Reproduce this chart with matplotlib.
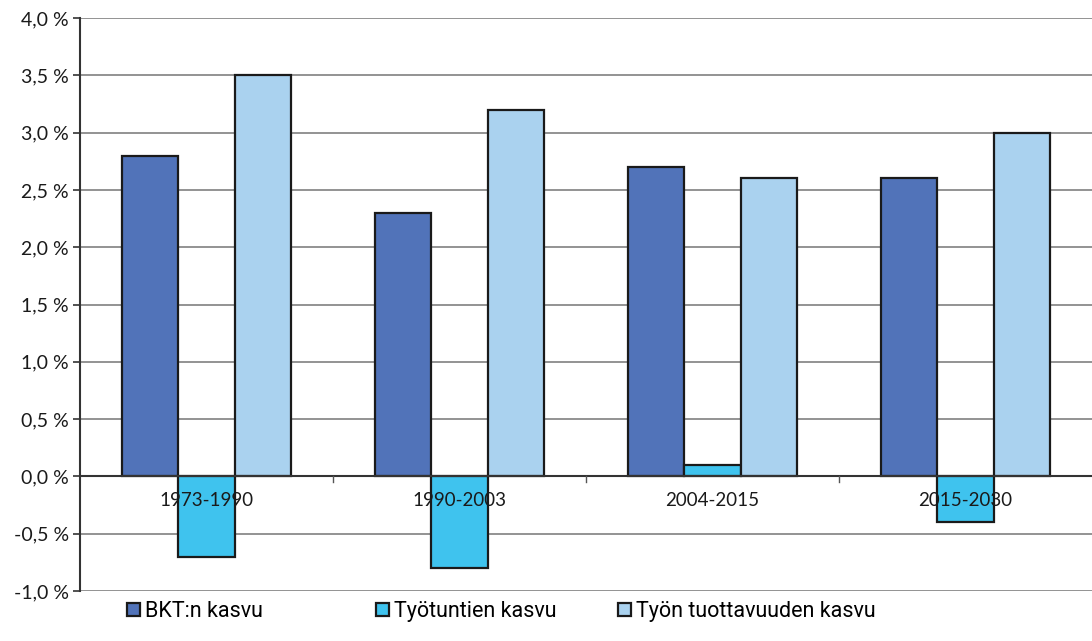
import numpy as np
import matplotlib.pyplot as plt
from matplotlib.ticker import FuncFormatter

# data
periods = ['1973-1990', '1990-2003', '2004-2015', '2015-2030']
bkt = [2.8, 2.3, 2.7, 2.6]
tyotunnit = [-0.7, -0.8, 0.1, -0.4]
tuottavuus = [3.5, 3.2, 2.6, 3.0]
series_names = ['BKT:n kasvu', 'Työtuntien kasvu', 'Työn tuottavuuden kasvu']
colors = ['#5173B9', '#3FC3EE', '#AAD2EF']

fig = plt.figure(figsize=(10.92, 6.41), dpi=100)
ax = fig.add_axes([80 / 1092, 1 - 591 / 641, 1 - 80 / 1092, (591 - 18) / 641])

x = np.arange(len(periods))
w = 0.223
for k, (vals, col, name) in enumerate(zip([bkt, tyotunnit, tuottavuus], colors, series_names)):
    ax.bar(x + (k - 1) * w, vals, width=w, color=col, edgecolor='#1a1a1a',
           linewidth=1.6, label=name, zorder=3)

ax.set_xlim(-0.5, len(periods) - 0.5)
ax.set_ylim(-1.0, 4.0)
ax.set_yticks(np.arange(-1.0, 4.01, 0.5))
ax.yaxis.set_major_formatter(FuncFormatter(lambda v, p: f'{v:.1f} %'.replace('.', ',')))
ax.grid(axis='y', color='#8a8a8a', linewidth=1.3, zorder=0)
ax.axhline(0, color='#333333', linewidth=1.5, zorder=4)

# category boundary ticks on the zero line
ax.set_xticks([])
for b in np.arange(0.5, len(periods) - 0.5, 1.0):
    ax.plot([b, b], [0, -0.05], color='#555555', linewidth=1, zorder=4)

# period labels just under the zero line, drawn over the bars
for xi, lab in zip(x, periods):
    ax.text(xi, -0.21, lab, ha='center', va='center', fontsize=13.5,
            family='Lato', color='#1a1a1a', zorder=6)

for s in ['top', 'right']:
    ax.spines[s].set_visible(False)
ax.spines['bottom'].set_visible(False)
ax.spines['left'].set_color('#333333')
ax.spines['left'].set_linewidth(1.5)
ax.tick_params(axis='y', length=5, width=1.2, color='#333333', labelsize=14,
               labelcolor='#1a1a1a', pad=3)
for t in ax.get_yticklabels():
    t.set_family('Lato')

# one legend box per entry so each sits where the reference has it
handles, labels = ax.get_legend_handles_labels()
for h, lab, left in zip(handles, labels, [127, 376, 618]):
    fig.legend([h], [lab], loc='upper left', bbox_to_anchor=(left / 1092, 1 - 601 / 641),
               frameon=False, handlelength=0.6, handleheight=0.6,
               handletextpad=0.25, borderpad=0, borderaxespad=0,
               prop={'family': 'Roboto', 'size': 15.5})

fig.savefig('out.png', dpi=100)
